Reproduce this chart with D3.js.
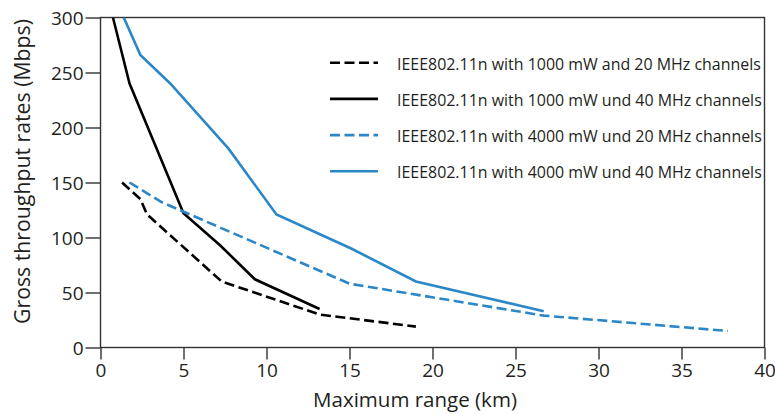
<!DOCTYPE html>
<html>
<head>
<meta charset="utf-8">
<script src="https://cdn.jsdelivr.net/npm/d3@7"></script>
<style>
  body { margin: 0; background: #fff; }
  text { font-family: "Open Sans", sans-serif; fill: #231f20; }
</style>
</head>
<body>
<svg id="chart" width="775" height="414"></svg>
<script>
// values
const xTicks = [0, 5, 10, 15, 20, 25, 30, 35, 40];
const yTicks = [0, 50, 100, 150, 200, 250, 300];

const seriesNames = [
  "IEEE802.11n with 1000 mW and 20 MHz channels",
  "IEEE802.11n with 1000 mW und 40 MHz channels",
  "IEEE802.11n with 4000 mW und 20 MHz channels",
  "IEEE802.11n with 4000 mW und 40 MHz channels"
];

const range1000mw20 = [1.3, 2.4, 2.8, 7.3, 13.2, 19.0];
const rate1000mw20  = [150, 135, 121, 60, 30, 19];

const range1000mw40 = [0.75, 1.75, 5.0, 7.2, 9.3, 13.2];
const rate1000mw40  = [300, 240, 122, 93, 62, 35];

const range4000mw20 = [1.75, 3.7, 15.0, 26.7, 37.8];
const rate4000mw20  = [150, 132, 58, 29, 15];

const range4000mw40 = [1.4, 2.4, 4.2, 7.7, 10.6, 15.1, 19.0, 26.7];
const rate4000mw40  = [300, 266, 240, 181, 121, 90, 60, 33];

const blue = "#2b87c7";
const series = [
  {name: seriesNames[0], xs: range1000mw20, ys: rate1000mw20, color: "#000", dash: "10,4.5"},
  {name: seriesNames[1], xs: range1000mw40, ys: rate1000mw40, color: "#000", dash: null},
  {name: seriesNames[2], xs: range4000mw20, ys: rate4000mw20, color: blue, dash: "10,4.5"},
  {name: seriesNames[3], xs: range4000mw40, ys: rate4000mw40, color: blue, dash: null}
];

const W = 775, H = 414;
const margin = {top: 17.5, right: 10.5, bottom: 66.5, left: 100.5};
const innerW = W - margin.left - margin.right;
const innerH = H - margin.top - margin.bottom;

// scale a label's font so that it spans the width seen in the reference
function fitWidth(sel, target) {
  let w = sel.node().getComputedTextLength();
  let fs = parseFloat(sel.style("font-size"));
  sel.style("font-size", (fs * target / w) + "px");
}

const svg = d3.select("#chart");
const g = svg.append("g")
  .attr("transform", `translate(${margin.left},${margin.top})`);

const x = d3.scaleLinear().domain([0, 40]).range([0, innerW]);
const y = d3.scaleLinear().domain([0, 300]).range([innerH, 0]);

// frame
g.append("rect")
  .attr("width", innerW)
  .attr("height", innerH)
  .attr("fill", "none")
  .attr("stroke", "#333")
  .attr("stroke-width", 1.4);

let xAxis = g.append("g")
  .attr("transform", `translate(0,${innerH})`)
  .call(d3.axisBottom(x).tickValues(xTicks).tickSize(12).tickPadding(4));
let yAxis = g.append("g")
  .call(d3.axisLeft(y).tickValues(yTicks).tickSize(15).tickPadding(2));

[xAxis, yAxis].forEach(a => {
  a.select(".domain").remove();
  a.selectAll(".tick line").attr("stroke", "#333").attr("stroke-width", 1.4);
  a.selectAll(".tick text").style("font-size", "19px").attr("fill", "#231f20");
});
yAxis.selectAll(".tick text").attr("dy", "0.38em");

// axis titles
let xTitle = svg.append("text")
  .attr("x", 415)
  .attr("y", 406.5)
  .attr("text-anchor", "middle")
  .style("font-size", "19px")
  .text("Maximum range (km)");
fitWidth(xTitle, 204);

let yTitle = svg.append("text")
  .attr("transform", "translate(29.5,171.5) rotate(-90)")
  .attr("text-anchor", "middle")
  .style("font-size", "19px")
  .text("Gross throughput rates (Mbps)");
fitWidth(yTitle, 305);

// lines
g.append("clipPath").attr("id", "plotclip")
  .append("rect").attr("width", innerW).attr("height", innerH);

const line = d3.line()
  .x(d => x(d[0]))
  .y(d => y(d[1]));

g.append("g").attr("clip-path", "url(#plotclip)")
  .selectAll("path")
  .data(series)
  .join("path")
  .attr("d", s => line(s.xs.map((v, i) => [v, s.ys[i]])))
  .attr("fill", "none")
  .attr("stroke", s => s.color)
  .attr("stroke-width", 2.6)
  .attr("stroke-dasharray", s => s.dash);

// legend
const legend = svg.append("g").attr("transform", "translate(330,62.7)");
const items = legend.selectAll("g")
  .data(series)
  .join("g")
  .attr("transform", (d, i) => `translate(0,${i * 36.2})`);
items.append("line")
  .attr("x1", 0).attr("x2", 48)
  .attr("stroke", d => d.color)
  .attr("stroke-width", 2.6)
  .attr("stroke-dasharray", d => d.dash);
let labels = items.append("text")
  .attr("x", 67)
  .attr("dy", "0.43em")
  .style("font-size", "15px")
  .text(d => d.name);
let probe = d3.select(labels.nodes()[1]);
fitWidth(probe, 365);
labels.style("font-size", probe.style("font-size"));
</script>
</body>
</html>
